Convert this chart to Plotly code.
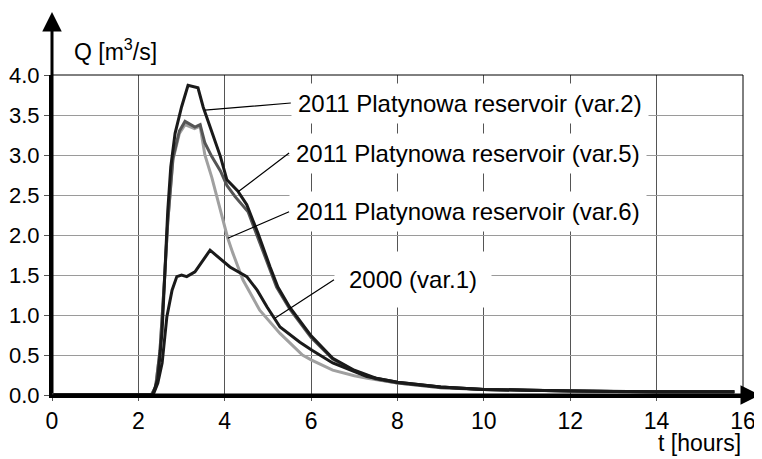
import plotly.graph_objects as go

# ---- data ----
t_var2 = [0, 2.33, 2.45, 2.55, 2.62, 2.68, 2.75, 2.85, 3.0, 3.15, 3.38, 3.5, 3.7, 3.9, 4.05, 4.3, 4.51, 4.63, 4.77, 5.05, 5.23, 5.5, 5.74, 6.0, 6.5, 7.0, 7.5, 8.0, 9.0, 10.0, 11.0, 12.0, 13.0, 14.0, 15.0, 15.8]
q_var2 = [0, 0.0, 0.2, 0.8, 1.6, 2.3, 2.85, 3.27, 3.6, 3.87, 3.84, 3.6, 3.29, 2.98, 2.69, 2.55, 2.38, 2.22, 2.02, 1.6, 1.35, 1.1, 0.92, 0.74, 0.46, 0.31, 0.21, 0.16, 0.1, 0.07, 0.06, 0.05, 0.045, 0.04, 0.04, 0.04]

t_var5 = [0, 2.3, 2.4, 2.5, 2.6, 2.68, 2.8, 2.95, 3.08, 3.2, 3.31, 3.43, 3.54, 3.7, 3.9, 4.05, 4.24, 4.54, 4.7, 4.93, 5.2, 5.5, 5.74, 6.0, 6.5, 7.0, 7.5, 8.0, 9.0, 10.0, 11.0, 12.0, 13.0, 14.0, 15.0, 15.8]
q_var5 = [0, 0.0, 0.1, 0.55, 1.4, 2.16, 2.96, 3.3, 3.42, 3.38, 3.35, 3.38, 3.15, 2.98, 2.8, 2.62, 2.48, 2.29, 2.06, 1.73, 1.35, 1.08, 0.9, 0.72, 0.45, 0.3, 0.2, 0.15, 0.09, 0.07, 0.06, 0.05, 0.045, 0.04, 0.04, 0.04]

t_var6 = [0, 2.3, 2.4, 2.5, 2.6, 2.68, 2.8, 2.95, 3.08, 3.2, 3.3, 3.43, 3.54, 3.7, 3.85, 3.96, 4.07, 4.19, 4.42, 4.81, 5.28, 5.8, 6.0, 6.5, 7.0, 7.3, 8.0, 9.0, 10.0, 11.0, 12.0, 14.0, 15.8]
q_var6 = [0, 0.0, 0.1, 0.55, 1.4, 2.16, 2.94, 3.27, 3.38, 3.35, 3.33, 3.36, 3.0, 2.72, 2.4, 2.19, 1.96, 1.77, 1.44, 1.06, 0.77, 0.5, 0.44, 0.31, 0.24, 0.21, 0.15, 0.1, 0.07, 0.06, 0.05, 0.04, 0.04]

t_var1 = [0, 2.34, 2.45, 2.55, 2.66, 2.78, 2.89, 3.0, 3.12, 3.31, 3.66, 4.0, 4.12, 4.51, 4.75, 4.98, 5.28, 5.74, 6.02, 6.5, 7.29, 8.0, 9.0, 10.0, 11.0, 12.0, 14.0, 15.8]
q_var1 = [0, 0.0, 0.15, 0.4, 0.98, 1.31, 1.48, 1.5, 1.48, 1.54, 1.81, 1.66, 1.6, 1.48, 1.31, 1.1, 0.85, 0.66, 0.56, 0.4, 0.23, 0.16, 0.1, 0.07, 0.06, 0.05, 0.04, 0.04]

labels = ["2011 Platynowa reservoir (var.2)",
          "2011 Platynowa reservoir (var.5)",
          "2011 Platynowa reservoir (var.6)",
          "2000 (var.1)"]
x_ticks = [0, 2, 4, 6, 8, 10, 12, 14, 16]
y_ticks = [0.0, 0.5, 1.0, 1.5, 2.0, 2.5, 3.0, 3.5, 4.0]

FONT = "Liberation Sans, Arial, sans-serif"

fig = go.Figure()
fig.add_trace(go.Scatter(x=t_var6, y=q_var6, mode="lines", line=dict(color="#a0a0a0", width=3)))
fig.add_trace(go.Scatter(x=t_var5, y=q_var5, mode="lines", line=dict(color="#555555", width=3)))
fig.add_trace(go.Scatter(x=t_var2, y=q_var2, mode="lines", line=dict(color="#1a1a1a", width=3)))
fig.add_trace(go.Scatter(x=t_var1, y=q_var1, mode="lines", line=dict(color="#1a1a1a", width=3)))

# the page body adds an 8px offset, so the figure is 8px smaller and margins shifted
fig.update_layout(
    width=754, height=451,
    margin=dict(l=44, r=19, t=67, b=64, autoexpand=False),
    paper_bgcolor="white", plot_bgcolor="white",
    showlegend=False,
    font=dict(family=FONT, size=23, color="black"),
    xaxis=dict(range=[0, 16], tickvals=x_ticks, ticktext=[str(v) for v in x_ticks],
               showgrid=True, gridcolor="#555555", gridwidth=1, automargin=False,
               zeroline=False, showline=True, linecolor="black", linewidth=3,
               ticks="outside", ticklen=3, tickcolor="#555555", tickwidth=1),
    yaxis=dict(range=[0, 4], tickvals=y_ticks, ticktext=[f"{v:.1f}" for v in y_ticks],
               tickfont=dict(size=22),
               showgrid=True, gridcolor="#9a9a9a", gridwidth=1, automargin=False,
               zeroline=False, showline=True, linecolor="black", linewidth=3,
               ticks="outside", ticklen=5, tickcolor="#555555", tickwidth=1),
)

# frame: top and right border
fig.add_shape(type="line", xref="paper", yref="paper", x0=0, x1=1, y0=1, y1=1,
              line=dict(color="black", width=1))
fig.add_shape(type="line", xref="paper", yref="paper", x0=1, x1=1, y0=0, y1=1,
              line=dict(color="black", width=1))

# axis arrows
fig.add_annotation(x=0, xref="x", y=1.197, yref="paper", ax=0, ay=383, text=" ",
                   font=dict(size=1), showarrow=True, arrowhead=2, arrowsize=1.3,
                   arrowwidth=3, arrowcolor="black")
fig.add_annotation(x=1.0246, xref="paper", y=0, yref="y", ax=-708, ay=0, text=" ",
                   font=dict(size=1), showarrow=True, arrowhead=2, arrowsize=1.3,
                   arrowwidth=3, arrowcolor="black")

# axis titles
fig.add_annotation(x=20/691, xref="paper", y=1.078, yref="paper", text="Q [m<sup>3</sup>/s]",
                   showarrow=False, xanchor="left", yanchor="middle")
fig.add_annotation(x=1, xref="paper", y=-0.15, yref="paper", text="t [hours]",
                   showarrow=False, xanchor="right", yanchor="middle")

# labels with leader lines (head = point on curve, tail = label)
heads = [(3.54, 3.56), (4.31, 2.54), (4.07, 1.96), (5.16, 0.96)]
tails = [(5.53, 3.65), (5.49, 3.025), (5.49, 2.29), (6.53, 1.44)]
pads = [6, 6, 6, 14]
for lab, (hx, hy), (tx, ty), p in zip(labels, heads, tails, pads):
    fig.add_annotation(x=hx, y=hy, xref="x", yref="y", ax=tx, ay=ty, axref="x", ayref="y",
                       text=lab, showarrow=True, arrowhead=0, arrowwidth=1.2, arrowcolor="black",
                       xanchor="left", yanchor="middle", bgcolor="white", borderpad=p,
                       font=dict(family=FONT, size=24, color="black"))

fig.write_html("out.html")
